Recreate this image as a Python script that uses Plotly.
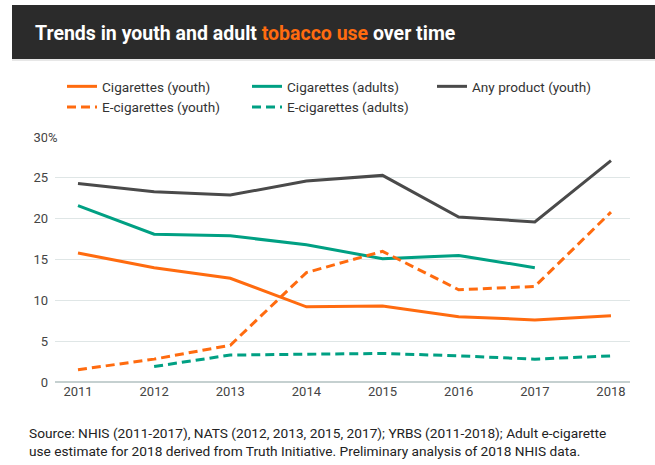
import plotly.graph_objects as go

years = [2011, 2012, 2013, 2014, 2015, 2016, 2017, 2018]
cig_youth = [15.8, 14.0, 12.7, 9.2, 9.3, 8.0, 7.6, 8.1]
cig_adults = [21.6, 18.1, 17.9, 16.8, 15.1, 15.5, 14.0, None]
any_youth = [24.3, 23.3, 22.9, 24.6, 25.3, 20.2, 19.6, 27.1]
ecig_youth = [1.5, 2.8, 4.5, 13.4, 16.0, 11.3, 11.7, 20.8]
ecig_adults = [None, 1.9, 3.3, 3.4, 3.5, 3.2, 2.8, 3.2]
y_ticks = [0, 5, 10, 15, 20, 25, 30]

ORANGE = "#ff6b0f"
TEAL = "#00a083"
GREY = "#4a4a4a"
FONT = "Roboto"

W, H = 655, 465
ML, MR, MT, MB = 55, 25, 137, 83
PW, PH = W - ML - MR, H - MT - MB

def px(x):
    return (x - ML) / PW

def py(y):
    return (H - MB - y) / PH

fig = go.Figure()
series = [
    ("Cigarettes (youth)", cig_youth, ORANGE, "solid"),
    ("Cigarettes (adults)", cig_adults, TEAL, "solid"),
    ("Any product (youth)", any_youth, GREY, "solid"),
    ("E-cigarettes (youth)", ecig_youth, ORANGE, "9px,5px"),
    ("E-cigarettes (adults)", ecig_adults, TEAL, "9px,5px"),
]
for name, vals, col, dash in series:
    fig.add_trace(go.Scatter(
        x=years, y=vals, name=name, mode="lines",
        line=dict(color=col, width=3, dash=dash),
        connectgaps=False,
    ))

fig.update_layout(
    width=W, height=H,
    margin=dict(l=ML, r=MR, t=MT, b=MB, autoexpand=False),
    paper_bgcolor="white", plot_bgcolor="white",
    font=dict(family=FONT, size=13, color="#333333"),
    title=dict(
        text="Trends in youth and adult <span style='color:#ff6b0f'>tobacco use</span> over time",
        font=dict(family=FONT, size=19.5, color="white", weight="bold"),
        xref="container", yref="container",
        x=35 / W, xanchor="left", y=1 - 33 / H, yanchor="middle",
    ),
    legend=dict(
        orientation="h",
        xref="container", yref="container",
        x=62 / W, xanchor="left", y=1 - 71 / H, yanchor="top",
        entrywidth=140, entrywidthmode="pixels",
        itemwidth=30,
        font=dict(family=FONT, size=13.6, color="#333333"),
        traceorder="normal",
        bgcolor="rgba(0,0,0,0)",
    ),
    xaxis=dict(
        range=[2010.698, 2018.25],
        tickmode="array", tickvals=years, ticktext=[str(y) for y in years],
        showgrid=False, zeroline=False, showline=False,
        ticks="", tickfont=dict(family=FONT, size=13, color="#444444"),
        fixedrange=True,
    ),
    yaxis=dict(
        range=[0, 30],
        tickmode="array", tickvals=y_ticks, ticktext=[str(v) for v in y_ticks],
        showgrid=True, gridcolor="#dfe6e6", gridwidth=1,
        zeroline=True, zerolinecolor="#c5d0d0", zerolinewidth=2,
        showline=False, ticks="",
        tickfont=dict(family=FONT, size=13, color="#444444"),
        ticklabelstandoff=6,
        fixedrange=True,
    ),
    showlegend=True,
)

# dark title bar and thin line below it
fig.add_shape(type="rect", xref="paper", yref="paper",
              x0=px(12), x1=px(660), y0=py(59), y1=py(5),
              fillcolor="#2b2b2b", line=dict(width=0), layer="below")
fig.add_shape(type="line", xref="paper", yref="paper",
              x0=px(12), x1=px(660), y0=py(60), y1=py(60),
              line=dict(color="#cfcfcf", width=1))

# percent sign hanging after the top tick label
fig.add_annotation(text="%", xref="paper", yref="y", x=px(47), y=30,
                   xanchor="left", yanchor="middle", showarrow=False,
                   font=dict(family=FONT, size=13, color="#444444"),
                   bgcolor="white", borderpad=0)

fig.add_annotation(
    text="Source: NHIS (2011-2017), NATS (2012, 2013, 2015, 2017); YRBS (2011-2018); Adult e-cigarette<br>"
         "use estimate for 2018 derived from Truth Initiative. Preliminary analysis of 2018 NHIS data.",
    xref="paper", yref="paper", x=px(27), y=py(423),
    xanchor="left", yanchor="top", align="left", showarrow=False,
    font=dict(family=FONT, size=13.7, color="#222222"),
)

fig.write_html("out.html")
